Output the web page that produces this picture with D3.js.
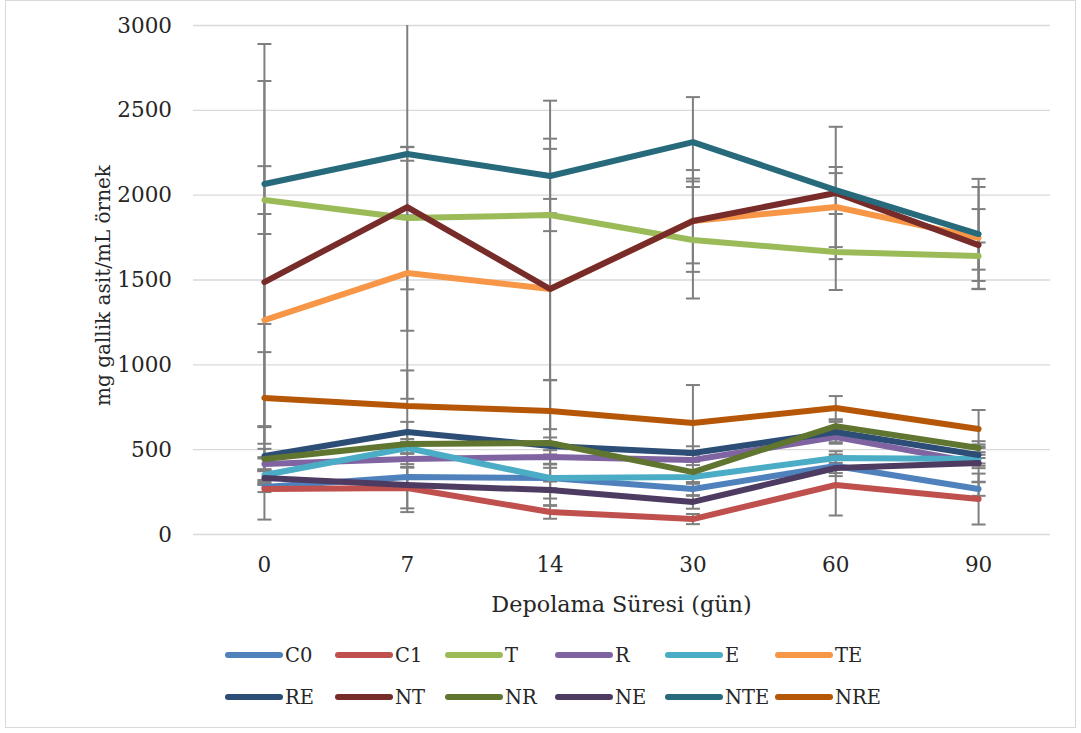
<!DOCTYPE html>
<html lang="tr">
<head>
<meta charset="UTF-8">
<title>Depolama Süresi</title>
<script src="https://d3js.org/d3.v7.min.js"></script>
<style>
    body { margin: 0; background: #fff; }
    text { font-family: 'DejaVu Serif', serif; fill: #262626; }
    .grid line { stroke: #d9d9d9; stroke-width: 1.3; }
    .grid path { display: none; }
</style>
</head>
<body>
<div id="chart"></div>
<script>
    // storage days (categories)
    const days = ["0", "7", "14", "30", "60", "90"];
    const yTicks = [0, 500, 1000, 1500, 2000, 2500, 3000];
    const seriesNames = ["C0", "C1", "T", "R", "E", "TE", "RE", "NT", "NR", "NE", "NTE", "NRE"];
    const seriesColors = ["#4F81BD", "#C0504D", "#9BBB59", "#8064A2", "#4BACC6", "#F79646",
                          "#2C4D75", "#772C2A", "#5F7530", "#4D3B62", "#276A7C", "#B65708"];

    // means (mg gallik asit / mL)
    const C0  = [277, 336, 330, 265, 401, 265];
    const C1  = [265, 271, 130, 88, 289, 206];
    const T   = [1968, 1862, 1880, 1733, 1662, 1638];
    const R   = [413, 442, 454, 436, 572, 418];
    const E   = [348, 507, 330, 336, 448, 442];
    const TE  = [1261, 1538, 1444, 1845, 1927, 1745];
    const RE  = [460, 601, 519, 477, 601, 466];
    const NT  = [1485, 1927, 1444, 1845, 2010, 1703];
    const NR  = [442, 530, 536, 365, 636, 507];
    const NE  = [330, 289, 259, 189, 389, 418];
    const NTE = [2063, 2240, 2110, 2310, 2027, 1768];
    const NRE = [802, 754, 725, 654, 743, 619];

    // standard deviations (error bars)
    const errC0  = [30, 60, 60, 40, 60, 40];
    const errC1  = [180, 120, 40, 30, 180, 150];
    const errT   = [200, 420, 95, 345, 224, 80];
    const errR   = [40, 30, 40, 30, 40, 30];
    const errE   = [30, 30, 80, 40, 40, 40];
    const errTE  = [625, 340, 826, 250, 236, 300];
    const errRE  = [170, 60, 50, 40, 60, 50];
    const errNT  = [1185, 1130, 1110, 300, 390, 212];
    const errNR  = [60, 30, 370, 60, 40, 40];
    const errNE  = [40, 160, 50, 40, 30, 110];
    const errNTE = [825, 40, 220, 265, 100, 325];
    const errNRE = [270, 210, 183, 224, 70, 112];

    const means = [C0, C1, T, R, E, TE, RE, NT, NR, NE, NTE, NRE];
    const errs = [errC0, errC1, errT, errR, errE, errTE, errRE, errNT, errNR, errNE, errNTE, errNRE];

    const series = seriesNames.map((name, i) => ({
        name: name,
        color: seriesColors[i],
        values: days.map((d, j) => ({ day: d, v: means[i][j], e: errs[i][j] }))
    }));

    const W = 1081, H = 733;
    const margin = { top: 25, right: 31, bottom: 199, left: 193 };
    const width = W - margin.left - margin.right;
    const height = H - margin.top - margin.bottom;

    const svg = d3.select("#chart").append("svg")
        .attr("width", W)
        .attr("height", H);

    // outer chart border
    svg.append("rect")
        .attr("x", 5.5).attr("y", 0.5)
        .attr("width", 1070).attr("height", 727)
        .attr("fill", "#fff")
        .attr("stroke", "#d9d9d9");

    const g = svg.append("g")
        .attr("transform", "translate(" + margin.left + "," + margin.top + ")");

    const x = d3.scalePoint()
        .domain(days)
        .range([0, width])
        .padding(0.5);

    const y = d3.scaleLinear()
        .domain([0, 3000])
        .range([height, 0]);

    // horizontal gridlines
    g.append("g")
        .attr("class", "grid")
        .call(d3.axisLeft(y).tickValues(yTicks).tickSize(-width).tickFormat(""));

    // y tick labels
    g.append("g")
        .selectAll("text")
        .data(yTicks)
        .enter()
        .append("text")
        .attr("x", -21)
        .attr("y", d => y(d))
        .attr("dy", "0.35em")
        .attr("text-anchor", "end")
        .style("font-size", "21.5px")
        .text(d => d);

    // x tick labels
    g.append("g")
        .selectAll("text")
        .data(days)
        .enter()
        .append("text")
        .attr("x", d => x(d))
        .attr("y", height + 38)
        .attr("text-anchor", "middle")
        .style("font-size", "21.5px")
        .text(d => d);

    // axis titles
    g.append("text")
        .attr("x", width / 2)
        .attr("y", height + 78)
        .attr("text-anchor", "middle")
        .style("font-size", "22.3px")
        .text("Depolama Süresi (gün)");

    g.append("text")
        .attr("transform", "rotate(-90)")
        .attr("x", -height / 2 - 6)
        .attr("y", -83)
        .attr("text-anchor", "middle")
        .style("font-size", "20px")
        .text("mg gallik asit/mL örnek");

    // error bars, cut at the plot edges like the original
    const bars = g.append("g")
        .attr("stroke", "#7f7f7f")
        .attr("stroke-width", 2);

    series.forEach(s => {
        s.values.forEach(p => {
            const top = y(Math.min(p.v + p.e, 3000));
            const bot = y(Math.max(p.v - p.e, 0));
            bars.append("line")
                .attr("x1", x(p.day)).attr("x2", x(p.day))
                .attr("y1", top).attr("y2", bot);
            if (p.v + p.e <= 3000) {
                bars.append("line")
                    .attr("x1", x(p.day) - 7).attr("x2", x(p.day) + 7)
                    .attr("y1", top).attr("y2", top);
            }
            if (p.v - p.e >= 0) {
                bars.append("line")
                    .attr("x1", x(p.day) - 7).attr("x2", x(p.day) + 7)
                    .attr("y1", bot).attr("y2", bot);
            }
        });
    });

    const line = d3.line()
        .x(d => x(d.day))
        .y(d => y(d.v));

    g.selectAll(".series")
        .data(series)
        .enter()
        .append("path")
        .attr("class", "series")
        .attr("fill", "none")
        .attr("stroke", d => d.color)
        .attr("stroke-width", 6)
        .attr("stroke-linejoin", "round")
        .attr("stroke-linecap", "round")
        .attr("d", d => line(d.values));

    // legend, two rows of six
    const legend = svg.append("g");
    const item = legend.selectAll(".item")
        .data(series)
        .enter()
        .append("g")
        .attr("class", "item")
        .attr("transform", (d, i) => "translate(" + (228 + (i % 6) * 110) + "," + (655 + Math.floor(i / 6) * 42) + ")");

    item.append("line")
        .attr("x1", 0).attr("x2", 52)
        .attr("stroke", d => d.color)
        .attr("stroke-width", 6)
        .attr("stroke-linecap", "round");

    item.append("text")
        .attr("x", 57)
        .attr("dy", "0.35em")
        .style("font-size", "19.5px")
        .text(d => d.name);
</script>
</body>
</html>
